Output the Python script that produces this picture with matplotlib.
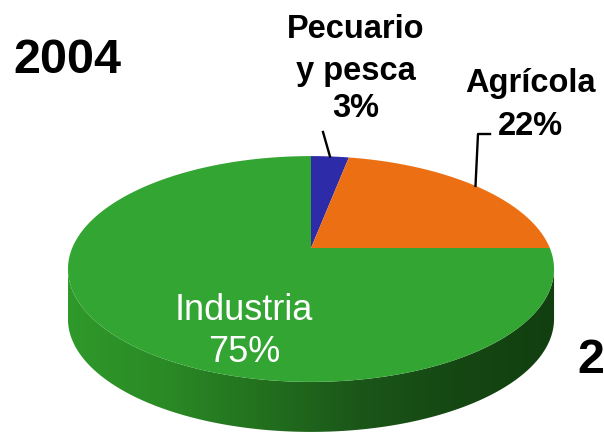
import numpy as np
import matplotlib
matplotlib.use("Agg")
import matplotlib.pyplot as plt
from matplotlib.patches import Polygon
from matplotlib.colors import LinearSegmentedColormap

# datos
sectores = ["Pecuario\ny pesca", "Agrícola", "Industria"]
valores = [3, 22, 75]
colores = ["#2d2ba8", "#ec7013", "#33a532"]
anio = "2004"

plt.rcParams["font.family"] = ["Liberation Sans", "DejaVu Sans"]

fig = plt.figure(figsize=(6.04, 4.39), dpi=100)
ax = fig.add_axes([0, 0, 1, 1])
ax.set_xlim(0, 604)
ax.set_ylim(439, 0)
ax.axis("off")

# pastel 3D en perspectiva (coordenadas en pixeles)
cx, cy = 311, 249
a, b, k = 238.8, 109.0, 0.186
grosor = 50


def proj(t):
    t = np.radians(t)
    d = 1 + k * np.sin(t)
    return cx + a * np.cos(t) / d, cy - b * np.sin(t) / d


# lado (solo parte frontal visible)
t0 = 180 + np.degrees(np.arcsin(k))
t1 = 360 - np.degrees(np.arcsin(k))
ts = np.linspace(t0, t1, 200)
xs, ys = proj(ts)
lado = np.vstack([np.column_stack([xs, ys]),
                  np.column_stack([xs[::-1], ys[::-1] + grosor])])
poly_lado = Polygon(lado, closed=True, facecolor="none", edgecolor="none")
ax.add_patch(poly_lado)
cmap = LinearSegmentedColormap.from_list(
    "lado", ["#2f992b", "#2a8a25", "#22701e", "#1b5619", "#154713", "#123f10"])
grad = np.linspace(0, 1, 256)[None, :]
im = ax.imshow(grad, cmap=cmap, aspect="auto",
               extent=(xs.min(), xs.max(), ys.max() + grosor + 2, ys.min() - 2))
im.set_clip_path(poly_lado)

# cara superior
acum = np.concatenate([[0], np.cumsum(valores)]) / sum(valores) * 360
medios = []
for i, v in enumerate(valores):
    th1 = 90 - acum[i]
    th2 = 90 - acum[i + 1]
    tt = np.linspace(th1, th2, 200)
    px, py = proj(tt)
    pts = np.vstack([[cx, cy], np.column_stack([px, py])])
    ax.add_patch(Polygon(pts, closed=True, facecolor=colores[i], edgecolor="none"))
    medios.append(proj((th1 + th2) / 2))

ax.set_xlim(0, 604)
ax.set_ylim(439, 0)

# etiquetas
ax.text(13, 73, anio, fontsize=35, fontweight="bold", ha="left", va="baseline")
ax.text(577, 373, anio[0], fontsize=35, fontweight="bold", ha="left", va="baseline")

lin1 = sectores[0].split("\n") + [f"{valores[0]}%"]
for txt, yb in zip(lin1, [38, 80, 117]):
    ax.text(356, yb, txt, fontsize=23.5, fontweight="bold", ha="center", va="baseline")
for txt, yb in zip([sectores[1], f"{valores[1]}%"], [92, 135]):
    ax.text(530, yb, txt, fontsize=23.5, fontweight="bold", ha="center", va="baseline")
for txt, yb in zip([sectores[2], f"{valores[2]}%"], [320, 362]):
    ax.text(244, yb, txt, fontsize=26, color="white", ha="center", va="baseline")

# lineas guia
ax.plot([323, medios[0][0]], [133, medios[0][1]], color="black", lw=1.7)
ax.plot([490, 478, medios[1][0]], [135, 135, medios[1][1]], color="black", lw=1.7)

fig.savefig("out.png", dpi=100)
